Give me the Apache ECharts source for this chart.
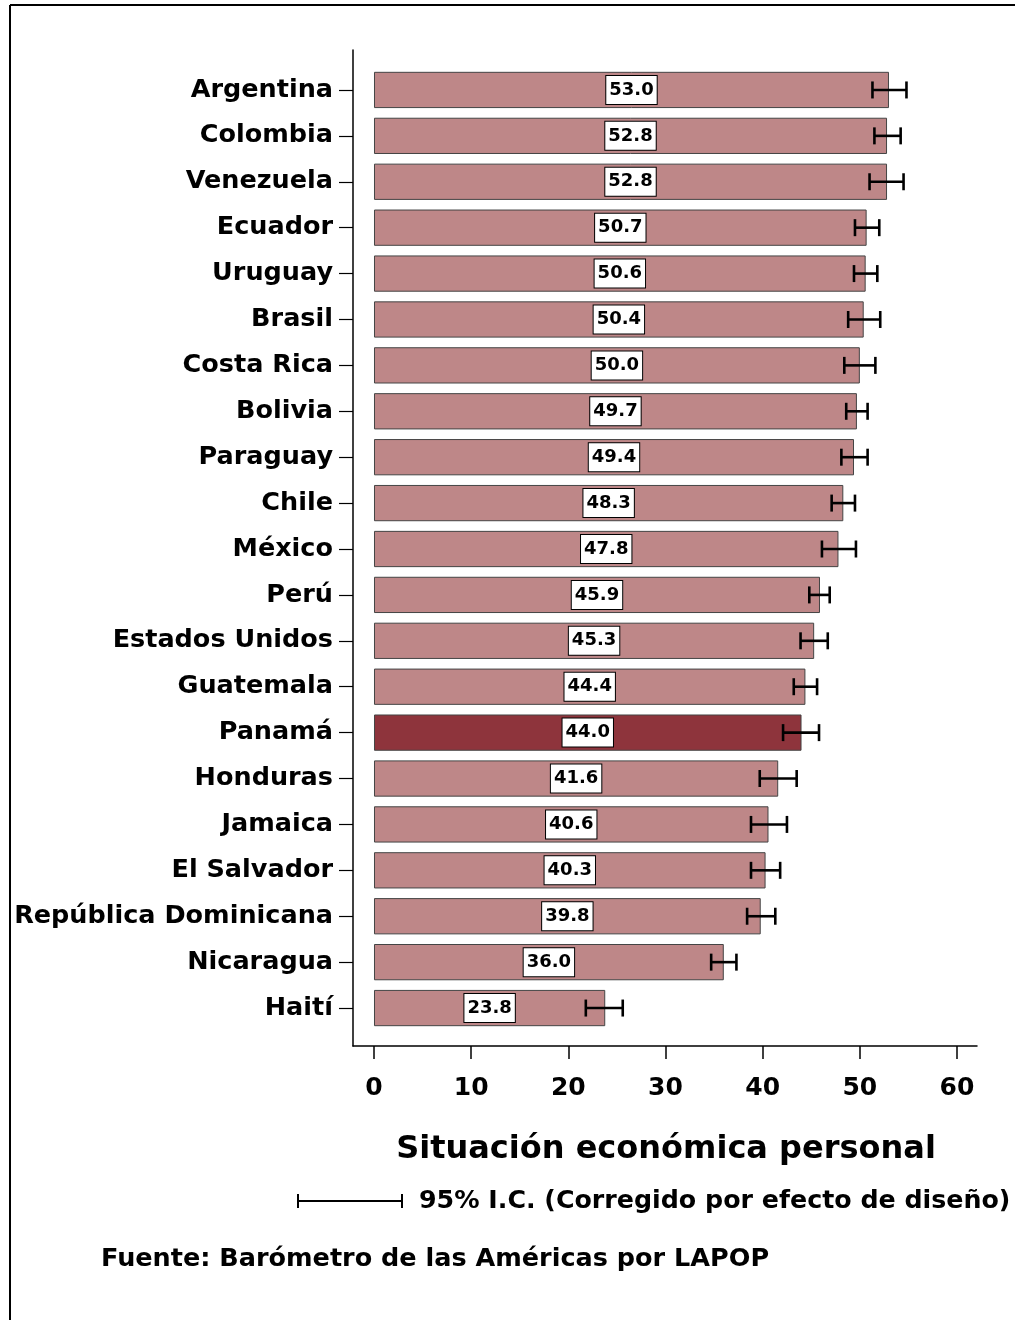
<!DOCTYPE html>
<html><head><meta charset="utf-8">
<script src="https://cdn.jsdelivr.net/npm/echarts@6/dist/echarts.min.js"></script>
<style>html,body{margin:0;padding:0;background:#fff}#c{width:1015px;height:1320px}</style>
</head><body><div id="c"></div>
<script>
const countries = ["Argentina","Colombia","Venezuela","Ecuador","Uruguay","Brasil","Costa Rica","Bolivia","Paraguay","Chile","México","Perú","Estados Unidos","Guatemala","Panamá","Honduras","Jamaica","El Salvador","República Dominicana","Nicaragua","Haití"];
const values = [53.0,52.8,52.8,50.7,50.6,50.4,50.0,49.7,49.4,48.3,47.8,45.9,45.3,44.4,44.0,41.6,40.6,40.3,39.8,36.0,23.8];
const ciLow  = [51.3,51.5,51.0,49.5,49.4,48.8,48.4,48.6,48.1,47.1,46.1,44.8,43.9,43.2,42.1,39.7,38.8,38.8,38.4,34.7,21.8];
const ciHigh = [54.8,54.2,54.5,52.0,51.8,52.1,51.6,50.8,50.8,49.5,49.6,46.9,46.7,45.6,45.8,43.5,42.5,41.8,41.3,37.3,25.6];
const highlight = "Panamá";
const xTickValues = [0,10,20,30,40,50,60];
const xTitle = "Situación económica personal";
const ciText = "95% I.C. (Corregido por efecto de diseño)";
const source = "Fuente: Barómetro de las Américas por LAPOP";

const FONT = "DejaVu Sans";
const chart = echarts.init(document.getElementById('c'), null, {renderer:'canvas'});
const barData = values.map((v,i)=>({value:v, itemStyle:{color: countries[i]===highlight ? '#8E343C' : '#BE8788'}}));
const errData = countries.map((c,i)=>[i, ciLow[i], ciHigh[i]]);

chart.setOption({
  animation:false,
  backgroundColor:'#fff',
  grid:[
    {left:353, top:50, width:624, height:996},
    {left:353, top:67, width:604, height:964}
  ],
  xAxis:[
    {gridIndex:0, type:'value', min:0, max:1, axisLine:{show:true, onZero:false, lineStyle:{color:'#000', width:1.5}}, axisTick:{show:false}, axisLabel:{show:false}, splitLine:{show:false}},
    {gridIndex:1, type:'value', min:-2.16, max:60, offset:15,
     axisLine:{show:false, onZero:false},
     axisTick:{show:true, customValues:xTickValues, length:13, lineStyle:{color:'#000', width:1.5}},
     axisLabel:{customValues:xTickValues, margin:30, color:'#000', fontFamily:FONT, fontWeight:'bold', fontSize:25},
     splitLine:{show:false},
     name:xTitle, nameLocation:'middle', nameGap:88,
     nameTextStyle:{color:'#000', fontFamily:FONT, fontWeight:'bold', fontSize:32, padding:[0,0,0,22]}}
  ],
  yAxis:[
    {gridIndex:0, type:'value', min:0, max:1, axisLine:{show:true, onZero:false, lineStyle:{color:'#000', width:1.5}}, axisTick:{show:false}, axisLabel:{show:false}, splitLine:{show:false}},
    {gridIndex:1, type:'category', data:countries, inverse:true,
     axisLine:{show:false, onZero:false}, axisTick:{show:true, alignWithLabel:true, length:14, lineStyle:{color:'#000', width:1.2}},
     axisLabel:{margin:20, color:'#000', fontFamily:FONT, fontWeight:'bold', fontSize:25.5, padding:[4,0,0,0]}}
  ],
  series:[
    {type:'bar', xAxisIndex:1, yAxisIndex:1, data:barData, barCategoryGap:'21%',
     itemStyle:{borderColor:'#444', borderWidth:1},
     label:{show:true, position:'inside', formatter:p=>p.value.toFixed(1), color:'#000',
       fontFamily:FONT, fontWeight:'bold', fontSize:18, backgroundColor:'#fff', borderColor:'#000', borderWidth:1, padding:[6,3,4,3]}},
    {type:'custom', xAxisIndex:1, yAxisIndex:1, data:errData, encode:{x:[1,2], y:0}, z:5,
     renderItem:(params, api)=>{
       const y = api.value(0);
       const p1 = api.coord([api.value(1), y]);
       const p2 = api.coord([api.value(2), y]);
       const h = 8.5;
       const st = {stroke:'#000', lineWidth:2.6};
       return {type:'group', children:[
         {type:'line', shape:{x1:p1[0], y1:p1[1], x2:p2[0], y2:p2[1]}, style:st},
         {type:'line', shape:{x1:p1[0], y1:p1[1]-h, x2:p1[0], y2:p1[1]+h}, style:st},
         {type:'line', shape:{x1:p2[0], y1:p2[1]-h, x2:p2[0], y2:p2[1]+h}, style:st}
       ]};
     }}
  ],
  graphic:[
    {type:'line', shape:{x1:10, y1:5, x2:10, y2:1320}, style:{stroke:'#000', lineWidth:2}},
    {type:'line', shape:{x1:10, y1:5, x2:1015, y2:5}, style:{stroke:'#000', lineWidth:2}},
    {type:'line', shape:{x1:298, y1:1201, x2:402, y2:1201}, style:{stroke:'#000', lineWidth:2}},
    {type:'line', shape:{x1:298, y1:1194, x2:298, y2:1208}, style:{stroke:'#000', lineWidth:2}},
    {type:'line', shape:{x1:402, y1:1194, x2:402, y2:1208}, style:{stroke:'#000', lineWidth:2}},
    {type:'text', left:419, top:1189, style:{text:ciText, fill:'#000', font:'bold 25.3px "DejaVu Sans"'}},
    {type:'text', left:101, top:1246, style:{text:source, fill:'#000', font:'bold 25.5px "DejaVu Sans"'}}
  ]
});
</script></body></html>
